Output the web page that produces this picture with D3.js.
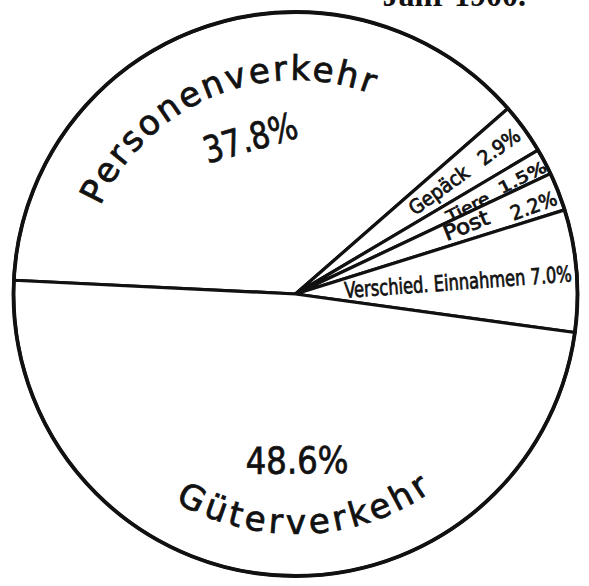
<!DOCTYPE html>
<html>
<head>
<meta charset="utf-8">
<script src="https://cdn.jsdelivr.net/npm/d3@7"></script>
<style>
  html, body { margin: 0; padding: 0; background: #fff; }
  svg { display: block; }
  .lbl { font-family: 'DejaVu Sans Condensed', 'DejaVu Sans', sans-serif; font-stretch: condensed; fill: #111; stroke: #111; stroke-width: 0.7px; }
  .arcLbl { font-family: 'DejaVu Sans', sans-serif; fill: #111; stroke: #111; stroke-width: 0.8px; }
</style>
</head>
<body>
<div class="svg-container"></div>
<script>
// slice names and shares, clockwise starting at the Personenverkehr slice
const names = ['Personenverkehr', 'Gepäck', 'Tiere', 'Post', 'Verschied. Einnahmen', 'Güterverkehr'];
const shares = [37.8, 2.9, 1.5, 2.2, 7.0, 48.6];
const shareLabels = ['37.8%', '2.9%', '1.5%', '2.2%', '7.0%', '48.6%'];
const titleText = 'Jahr 1900.';

const data = names.map((n, i) => ({ name: n, value: shares[i], label: shareLabels[i] }));

// svg dimensions
const width = 589;
const height = 586;
const cx = 295.5;
const cy = 294;
const radius = 282;
const startDeg = -87.2;
const rad = Math.PI / 180;

const svg = d3.select('.svg-container')
  .append('svg')
  .attr('width', width)
  .attr('height', height);

svg.append('rect')
  .attr('width', width)
  .attr('height', height)
  .attr('fill', '#fff');

// cut-off title at the top edge
svg.append('text')
  .text(titleText)
  .attr('x', 526)
  .attr('y', 6)
  .attr('text-anchor', 'end')
  .style('font-family', "'Liberation Serif', serif")
  .style('font-weight', 'bold')
  .style('font-size', '32px')
  .attr('fill', '#111');

// pie layout
const pie = d3.pie()
  .sort(null)
  .value(d => d.value)
  .startAngle(startDeg * rad)
  .endAngle(startDeg * rad + 2 * Math.PI);

const arcs = pie(data);

const arc = d3.arc()
  .innerRadius(0)
  .outerRadius(radius);

const g = svg.append('g')
  .attr('transform', `translate(${cx}, ${cy})`);

g.selectAll('path.slice')
  .data(arcs)
  .join('path')
  .attr('class', 'slice')
  .attr('d', arc)
  .attr('fill', '#fff')
  .attr('stroke', '#111')
  .attr('stroke-width', 3.2)
  .attr('stroke-linejoin', 'round');

g.append('circle')
  .attr('r', radius)
  .attr('fill', 'none')
  .attr('stroke', '#111')
  .attr('stroke-width', 3.8);

// helpers
function polar(deg, r) {
  return [r * Math.sin(deg * rad), -r * Math.cos(deg * rad)];
}
function midDeg(d) {
  return (d.startAngle + d.endAngle) / 2 / rad;
}

// arc path for curved labels, centred on angle a
function arcPath(a, r, span, clockwise) {
  const a0 = clockwise ? a - span / 2 : a + span / 2;
  const a1 = clockwise ? a + span / 2 : a - span / 2;
  const p0 = polar(a0, r);
  const p1 = polar(a1, r);
  return `M${p0[0]},${p0[1]} A${r},${r} 0 0 ${clockwise ? 1 : 0} ${p1[0]},${p1[1]}`;
}

// big slices: curved name plus percent
const bigLabels = [
  { i: 0, shift: -3, r: 214, top: true, spacing: 2.6, size: 34, pctR: 162, pctShift: 3, pctLen: 96 },
  { i: 5, shift: -8, r: 240, top: false, spacing: 4, size: 34, pctR: 167, pctShift: -5.85, pctLen: 103 },
];

bigLabels.forEach((b) => {
  const d = arcs[b.i];
  const a = midDeg(d) + b.shift;
  const id = 'arcpath' + b.i;
  g.append('path')
    .attr('id', id)
    .attr('d', arcPath(a, b.r, 170, b.top))
    .attr('fill', 'none');

  g.append('text')
    .attr('class', 'arcLbl')
    .style('font-size', b.size + 'px')
    .style('letter-spacing', b.spacing + 'px')
    .append('textPath')
    .attr('href', '#' + id)
    .attr('startOffset', '50%')
    .attr('text-anchor', 'middle')
    .text(d.data.name);

  const pa = midDeg(d) + b.pctShift;
  const p = polar(pa, b.pctR);
  const rot = b.top ? pa : pa - 180;
  g.append('text')
    .attr('class', 'lbl')
    .attr('transform', `translate(${p[0]}, ${p[1]}) rotate(${rot})`)
    .attr('text-anchor', 'middle')
    .attr('dominant-baseline', 'central')
    .attr('textLength', b.pctLen)
    .attr('lengthAdjust', 'spacingAndGlyphs')
    .style('font-size', '37px')
    .text(d.data.label);
});

// narrow slices: text running along the radius
const radialLabels = [
  { i: 1, part: 'name', r: 177, len: 69, size: 20, shift: 0 },
  { i: 1, part: 'pct', r: 251, len: 47, size: 20, shift: 0 },
  { i: 2, part: 'name', r: 193, len: 46, size: 16, shift: 1.3 },
  { i: 2, part: 'pct', r: 255, len: 52, size: 16, shift: 0.8 },
  { i: 3, part: 'name', r: 184, len: 48, size: 21, shift: -0.5 },
  { i: 3, part: 'pct', r: 254, len: 48, size: 20, shift: 1 },
  { i: 4, part: 'both', r: 163, len: 228, size: 22, shift: 0.6 },
];

radialLabels.forEach((l) => {
  const d = arcs[l.i];
  const a = midDeg(d) + l.shift;
  const p = polar(a, l.r);
  const txt = l.part === 'name' ? d.data.name
    : l.part === 'pct' ? d.data.label
    : d.data.name + ' ' + d.data.label;
  g.append('text')
    .attr('class', 'lbl')
    .attr('transform', `translate(${p[0]}, ${p[1]}) rotate(${a - 90})`)
    .attr('text-anchor', 'middle')
    .attr('dominant-baseline', 'central')
    .attr('textLength', l.len)
    .attr('lengthAdjust', 'spacingAndGlyphs')
    .style('font-size', l.size + 'px')
    .text(txt);
});
</script>
</body>
</html>
